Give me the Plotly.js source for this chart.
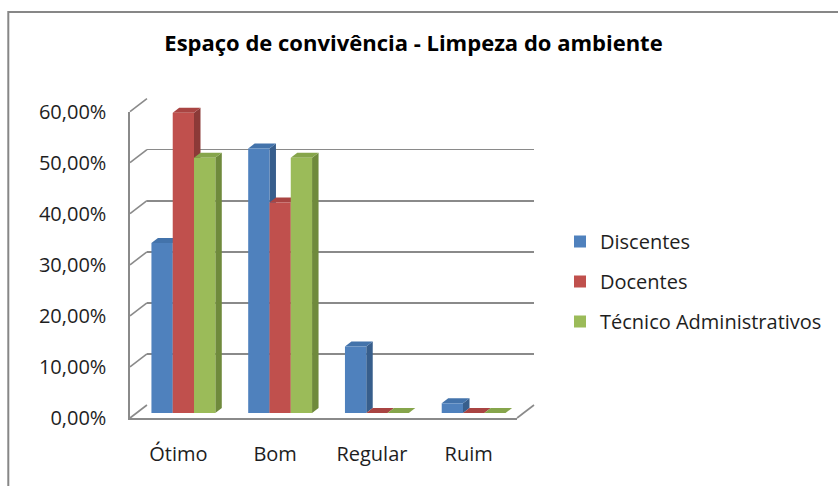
<!DOCTYPE html>
<html>
<head>
<meta charset="utf-8">
<script src="https://cdn.plot.ly/plotly-3.0.1.min.js"></script>
<style>
  body { margin: 0; background: #fff; }
  #graph { width: 838px; height: 486px; }
</style>
</head>
<body>
<div id="graph"></div>
<script>
// Espaço de convivência - Limpeza do ambiente
const categorias = ['Ótimo', 'Bom', 'Regular', 'Ruim']
const discentes = [0.333, 0.518, 0.130, 0.019]
const docentes = [0.588, 0.412, 0, 0]
const tecnicos = [0.50, 0.50, 0, 0]
const series = ['Discentes', 'Docentes', 'Técnico Administrativos']
const valores = [discentes, docentes, tecnicos]
const cores = ['#4f81bd', '#c0504d', '#9bbb59']
const lados = ['#375e8c', '#8c3a38', '#6f8a3c']
const topos = ['#4373ab', '#a94442', '#86a54b']
const yticks = [0, 0.1, 0.2, 0.3, 0.4, 0.5, 0.6]

// area do grafico em pixels (paper): x 130..535, y 95..418
const W = 838, H = 486
const L = 130, R = 535, T = 95, B = 418
const fx = p => (p - L) / (R - L)
const fy = p => (B - p) / (B - T)

const ymax = 0.6
const barW = 0.22
const offsets = [-0.33, -0.11, 0.11]
const dx = 6.5 / 97          // profundidade da barra em unidades de categoria
const dy = 5 / 510.7         // profundidade em unidades de y

const frontX = [fx(130), fx(518)], frontY = [fy(418), fy(111.6)]
const backX = [fx(147), fx(535)], backY = [fy(405), fy(98.6)]
const barX = [fx(135), fx(523)], barY = [fy(413), fy(106.6)]

const xs = categorias.map((c, i) => i)

const graphData = valores.map((v, s) => ({
    x: xs,
    y: v,
    type: 'bar',
    name: series[s],
    xaxis: 'x2',
    yaxis: 'y2',
    width: barW,
    offset: offsets[s],
    marker: { color: cores[s], line: { width: 0 } },
    legendgroup: 'g' + s,
    hoverinfo: 'skip'
}))

// tracos vazios so para criar a parede do fundo e os eixos da frente
;[['x', 'y'], ['x3', 'y3']].forEach(([xa, ya]) => {
    graphData.push({
        x: xs, y: xs.map(() => 0), type: 'scatter', mode: 'lines',
        line: { width: 0, color: 'rgba(0,0,0,0)' },
        xaxis: xa, yaxis: ya, showlegend: false, hoverinfo: 'skip'
    })
})

const shapes = []
// faces laterais e superiores das barras (efeito 3D)
valores.forEach((v, s) => {
    v.forEach((val, i) => {
        const x0 = i + offsets[s], x1 = x0 + barW
        shapes.push({
            type: 'path', xref: 'x2', yref: 'y2', layer: 'between',
            path: `M${x1},0 L${x1 + dx},${dy} L${x1 + dx},${val + dy} L${x1},${val} Z`,
            fillcolor: lados[s], line: { width: 0 }
        })
        shapes.push({
            type: 'path', xref: 'x2', yref: 'y2', layer: 'between',
            path: `M${x0},${val} L${x0 + dx},${val + dy} L${x1 + dx},${val + dy} L${x1},${val} Z`,
            fillcolor: topos[s], line: { width: 0 }
        })
    })
})
// diagonais da parede lateral
yticks.forEach(t => {
    shapes.push({
        type: 'line', xref: 'paper', yref: 'paper', layer: 'below',
        x0: frontX[0], y0: frontY[0] + t / ymax * (frontY[1] - frontY[0]),
        x1: backX[0], y1: backY[0] + t / ymax * (backY[1] - backY[0]),
        line: { color: '#8a8a8a', width: 1.6 }
    })
})
// borda direita do piso
shapes.push({
    type: 'line', xref: 'paper', yref: 'paper', layer: 'below',
    x0: frontX[1], y0: frontY[0], x1: backX[1], y1: backY[0],
    line: { color: '#8a8a8a', width: 1.6 }
})
// moldura do grafico
shapes.push({
    type: 'rect', xref: 'paper', yref: 'paper', layer: 'below',
    x0: fx(8), y0: fy(12), x1: fx(850), y1: fy(500),
    line: { color: '#878787', width: 2 }
})

const fonte = '"Open Sans", Lato, sans-serif'

const layout = {
    width: W,
    height: H,
    margin: { l: L, r: W - R, t: T, b: H - B },
    paper_bgcolor: '#ffffff',
    plot_bgcolor: 'rgba(0,0,0,0)',
    separators: ',.',
    font: { family: fonte, size: 20, color: '#1e1e1e' },
    title: {
        text: '<b>Espaço de convivência - Limpeza do ambiente</b>',
        xref: 'container', yref: 'container',
        x: 413.5 / W, y: 1 - 43 / H,
        xanchor: 'center', yanchor: 'middle',
        font: { family: fonte, size: 22, color: '#000000' }
    },
    showlegend: true,
    legend: {
        x: fx(560), y: fy(222), xanchor: 'left', yanchor: 'top',
        traceorder: 'grouped', tracegroupgap: 11,
        font: { family: fonte, size: 20, color: '#1e1e1e' },
        bgcolor: 'rgba(0,0,0,0)'
    },
    // parede do fundo (linhas de grade)
    xaxis: {
        domain: backX, anchor: 'y', range: [-0.5, 3.5],
        showgrid: false, zeroline: false, showline: false,
        showticklabels: false, ticks: '', fixedrange: true
    },
    yaxis: {
        domain: backY, anchor: 'x', range: [0, ymax], tickvals: yticks,
        showgrid: true, gridcolor: '#8a8a8a', gridwidth: 1.6,
        zeroline: false, showline: false, showticklabels: false, ticks: '', fixedrange: true
    },
    // plano das barras
    xaxis2: {
        domain: barX, anchor: 'y2', range: [-0.5, 3.5],
        showgrid: false, zeroline: false, showline: false,
        showticklabels: false, ticks: '', fixedrange: true
    },
    yaxis2: {
        domain: barY, anchor: 'x2', range: [0, ymax],
        showgrid: false, zeroline: false, showline: false,
        showticklabels: false, ticks: '', fixedrange: true
    },
    // eixos da frente (rotulos)
    xaxis3: {
        domain: frontX, anchor: 'y3', range: [-0.5, 3.5],
        tickvals: xs, ticktext: categorias,
        showgrid: false, zeroline: false,
        showline: true, linecolor: '#8a8a8a', linewidth: 1.6,
        ticks: '', ticklabelstandoff: 17, fixedrange: true,
        tickfont: { family: fonte, size: 20, color: '#1e1e1e' }
    },
    yaxis3: {
        domain: frontY, anchor: 'x3', range: [0, ymax], tickvals: yticks,
        tickformat: '.2%',
        showgrid: false, zeroline: false,
        showline: true, linecolor: '#8a8a8a', linewidth: 1.6,
        ticks: '', ticklabelstandoff: 18, fixedrange: true,
        tickfont: { family: fonte, size: 20, color: '#1e1e1e' }
    },
    shapes: shapes
}

Plotly.newPlot('graph', graphData, layout, { displayModeBar: false, staticPlot: true })
</script>
</body>
</html>
